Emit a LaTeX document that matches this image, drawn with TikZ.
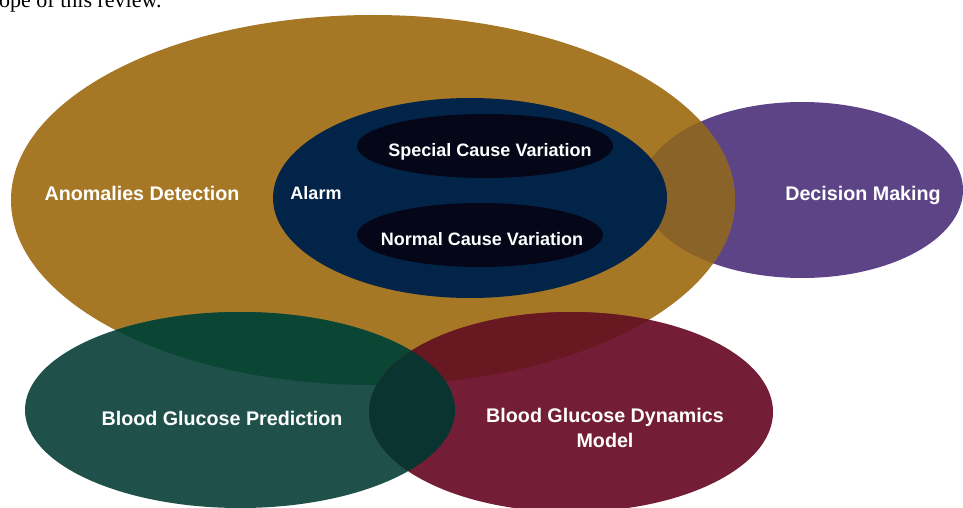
\documentclass[tikz,border=0pt]{standalone}
\usepackage{fontspec}
\setmainfont{Liberation Sans}
\newfontfamily\serifcap{Liberation Serif}
\definecolor{cgold}{RGB}{166,119,37}
\definecolor{cpurple}{RGB}{93,68,135}
\definecolor{cnavy}{RGB}{3,36,73}
\definecolor{cblack}{RGB}{5,7,24}
\definecolor{cgreen}{RGB}{31,80,74}
\definecolor{cred}{RGB}{115,30,54}
\definecolor{cgoldpurple}{RGB}{138,99,40}
\definecolor{cgreengold}{RGB}{11,70,53}
\definecolor{credgold}{RGB}{104,24,33}
\definecolor{cgreenred}{RGB}{9,52,47}
\tikzset{
  outer/.style={text=white, font=\fontsize{19.7}{24}\selectfont\bfseries, anchor=base, inner sep=0pt},
  inner/.style={text=white, font=\fontsize{18}{22}\selectfont\bfseries, anchor=base, inner sep=0pt},
}
\begin{document}
\begin{tikzpicture}[x=1pt,y=-1pt]
\clip (0,0) rectangle (963,508);
\useasboundingbox (0,0) rectangle (963,508);
\fill[white] (0,0) rectangle (963,508);
% caption fragment
\node[font=\serifcap\fontsize{22}{26}\selectfont, anchor=base west, inner sep=0pt] (cap) at (-1,8) {ope of this review.};
% purple
\fill[cpurple] (802,190) ellipse [x radius=161, y radius=88];
% gold
\fill[cgold] (373,200) ellipse [x radius=362, y radius=185];
\begin{scope}
  \clip (373,200) ellipse [x radius=362, y radius=185];
  \fill[cgoldpurple] (802,190) ellipse [x radius=161, y radius=88];
\end{scope}
% navy and inner
\fill[cnavy] (470,198) ellipse [x radius=197, y radius=100];
\fill[cblack] (485,146) ellipse [x radius=128, y radius=32];
\fill[cblack] (480,235) ellipse [x radius=123, y radius=32];
% green and red
\fill[cgreen] (240,410) ellipse [x radius=215, y radius=98];
\fill[cred] (571,412) ellipse [x radius=202, y radius=100];
\begin{scope}
  \clip (373,200) ellipse [x radius=362, y radius=185];
  \fill[cgreengold] (240,410) ellipse [x radius=215, y radius=98];
  \fill[credgold] (571,412) ellipse [x radius=202, y radius=100];
\end{scope}
\begin{scope}
  \clip (240,410) ellipse [x radius=215, y radius=98];
  \fill[cgreenred] (571,412) ellipse [x radius=202, y radius=100];
\end{scope}
% labels
\node[outer] (anom) at (142,200) {Anomalies Detection};
\node[inner] (alarm) at (316,199.5) {Alarm};
\node[inner] (special) at (490,156.5) {Special Cause Variation};
\node[inner] (normal) at (482,245.5) {Normal Cause Variation};
\node[outer] (dec) at (863,200) {Decision Making};
\node[outer] (pred) at (222,425) {Blood Glucose Prediction};
\node[outer] (dyn1) at (605,422) {Blood Glucose Dynamics};
\node[outer] (dyn2) at (605,447) {Model};
\end{tikzpicture}
\end{document}
